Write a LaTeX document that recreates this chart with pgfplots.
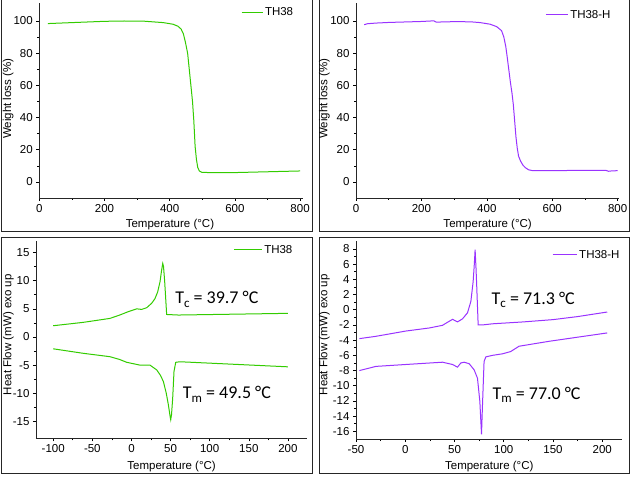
\documentclass[border=0pt]{standalone}
\usepackage{fontspec}
\setmainfont{Liberation Sans}
\newfontfamily\calib{Carlito}
\usepackage{pgfplots}
\pgfplotsset{compat=1.18}
\definecolor{tgreen}{RGB}{51,204,0}
\definecolor{tpurple}{RGB}{153,51,255}
\pgfplotsset{panel/.style={
  scale only axis, axis x line*=bottom, axis y line*=left,
  tick align=outside, major tick length=3pt, minor tick length=2pt, minor tick num=1,
  every tick/.style={black, line width=0.6pt},
  axis line style={black!85, line width=0.8pt},
  tick label style={font=\fontsize{11.5}{13}\selectfont},
  label style={font=\fontsize{11.5}{13}\selectfont},
  /pgf/number format/assume math mode=true,
  legend style={draw=none, fill=none, font=\fontsize{11.5}{13}\selectfont, anchor=west, inner sep=0pt},
  legend cell align=left,
  xlabel={Temperature (°C)},
}}
\newcommand{\anno}[2]{{\calib\fontsize{18}{20}\selectfont T\raisebox{-0.4ex}{\fontsize{13}{13}\selectfont #1} = #2 °C}}
\begin{document}
\begin{tikzpicture}
\useasboundingbox (0,0) rectangle (632pt,477pt);
\fill[white] (0,0) rectangle (632pt,477pt);
% panel frames
\draw[black!85, line width=0.8pt] (1pt,477pt) -- (1pt,246pt) -- (312pt,246pt) -- (312pt,477pt);
\draw[black!85, line width=0.8pt] (319pt,477pt) -- (319pt,246pt) -- (629pt,246pt) -- (629pt,477pt);
\draw[black!85, line width=0.8pt] (1pt,240pt) rectangle (312pt,4pt);
\draw[black!85, line width=0.8pt] (319pt,240pt) rectangle (629pt,4pt);

% Panel 1
\begin{axis}[panel, at={(39.3pt,279pt)}, anchor=south west, width=263.4pt, height=194.7pt,
  xmin=0, xmax=808, ymin=-10, ymax=111,
  xtick={0,200,...,800}, ytick={0,20,...,100},
  ylabel={Weight loss (\%)},
  ylabel style={at={(axis description cs:-0.118,0.51)}, anchor=center},
  xlabel style={at={(axis description cs:0.496,-0.134)}, anchor=center},
  legend style={at={(axis description cs:0.765,0.952)}},
  legend image code/.code={\draw[#1] (0pt,0pt) -- (21pt,0pt);}]
\addplot[tgreen, line width=1pt] coordinates {
(26,98.4) (100,99.0) (200,99.8) (260,100.0) (320,99.9) (380,99.0) (410,98.0) (425,96.8) (435,95) (442,92) (448,87) (455,80) (460,70) (465,60) (470,50) (474,38) (478,22) (482,14) (486,9) (491,6.8) (498,6.0) (520,5.8) (600,5.8) (700,6.3) (800,6.8)};
\addlegendentry{TH38}
\end{axis}

% Panel 2
\begin{axis}[panel, at={(356pt,279pt)}, anchor=south west, width=263.3pt, height=194.7pt,
  xmin=0, xmax=805, ymin=-10, ymax=111,
  xtick={0,200,...,800}, ytick={0,20,...,100},
  ylabel={Weight loss (\%)},
  ylabel style={at={(axis description cs:-0.12,0.51)}, anchor=center},
  xlabel style={at={(axis description cs:0.5,-0.134)}, anchor=center},
  legend style={at={(axis description cs:0.718,0.94)}},
  legend image code/.code={\draw[#1] (0pt,0pt) -- (22pt,0pt);}]
\addplot[tpurple, line width=1pt] coordinates {
(25,97.7) (35,98.3) (60,98.7) (100,99.1) (150,99.4) (200,99.7) (238,100.1) (245,99.3) (300,99.6) (350,99.5) (380,99.0) (410,98.0) (430,96.5) (445,94) (452,90) (458,84) (462,78) (467,70) (472,62) (477,55) (481,48) (485,38) (489,28) (493,21) (497,16) (503,13) (510,10.5) (518,8.8) (528,7.5) (540,7.0) (600,7.0) (700,7.2) (765,7.1) (772,6.6) (780,6.8) (800,7.0)};
\addlegendentry{TH38-H}
\end{axis}

% Panel 3
\begin{axis}[panel, at={(36pt,38.7pt)}, anchor=south west, width=270.7pt, height=197pt,
  xmin=-122, xmax=224, ymin=-18, ymax=17,
  xtick={-100,-50,...,200}, ytick={-15,-10,...,15},
  ylabel={Heat Flow (mW) exo up},
  ylabel style={at={(axis description cs:-0.102,0.526)}, anchor=center},
  xlabel style={at={(axis description cs:0.501,-0.142)}, anchor=center},
  legend style={at={(axis description cs:0.728,0.956)}},
  legend image code/.code={\draw[#1] (0pt,0pt) -- (28pt,0pt);}]
\addplot[tgreen, line width=1pt] coordinates {
(-100,2.0) (-61.6,2.6) (-27.5,3.3) (-15,3.9) (-4,4.5) (6.7,5.0) (13,4.9) (19.5,5.2) (25.9,6.0) (30,6.8) (33.5,8.0) (36.5,9.8) (38.5,11.8) (40,13.05) (41,12.5) (42.5,9.8) (45,4.0) (60,3.9) (200,4.2)};
\addlegendentry{TH38}
\addplot[tgreen, line width=1pt, forget plot] coordinates {
(-100,-2.1) (-61.6,-2.9) (-27.5,-3.5) (-15,-4.0) (-6,-4.5) (11,-5.0) (23.7,-5.0) (32.3,-5.85) (37,-6.8) (40.8,-7.9) (44.5,-10.0) (47.2,-12.05) (49.5,-14.2) (50.2,-14.7) (51.2,-13.8) (52.7,-10.9) (54.4,-6.1) (56.6,-4.5) (62,-4.4) (200,-5.3)};
\node[anchor=west, inner sep=0pt] at (axis cs:55.8,6.67) {\anno{c}{39.7}};
\node[anchor=west, inner sep=0pt] at (axis cs:65.6,-10.2) {\anno{m}{49.5}};
\end{axis}

% Panel 4
\begin{axis}[panel, at={(356pt,38pt)}, anchor=south west, width=266pt, height=197.7pt,
  xmin=-50, xmax=220, ymin=-17, ymax=9,
  xtick={-50,0,...,200}, ytick={-16,-14,...,8},
  ylabel={Heat Flow (mW) exo up},
  ylabel style={at={(axis description cs:-0.119,0.527)}, anchor=center},
  xlabel style={at={(axis description cs:0.501,-0.138)}, anchor=center},
  legend style={at={(axis description cs:0.737,0.932)}},
  legend image code/.code={\draw[#1] (0pt,0pt) -- (24pt,0pt);}]
\addplot[tpurple, line width=1pt] coordinates {
(-46.6,-3.8) (-30,-3.5) (0.7,-2.8) (24.3,-2.4) (37.8,-2.05) (42.9,-1.65) (48,-1.26) (53,-1.6) (58.1,-1.2) (63.2,-0.4) (66.6,1.1) (68.9,3.7) (70.1,6.0) (70.9,7.9) (71.8,5.5) (72.6,2.9) (74,-2.0) (78.4,-2.0) (88.5,-1.85) (120,-1.6) (150,-1.3) (175,-0.9) (205,-0.3)};
\addlegendentry{TH38-H}
\addplot[tpurple, line width=1pt, forget plot] coordinates {
(-46.6,-8.0) (-29.7,-7.45) (0.7,-7.2) (37.8,-6.9) (48,-7.2) (53,-7.55) (56.4,-7.0) (59.8,-6.9) (64.9,-7.1) (69.9,-7.9) (73.3,-9.0) (75.7,-12.05) (77.4,-16.4) (78.4,-12.5) (80,-6.8) (81.8,-6.2) (88.5,-6.0) (98.6,-5.8) (107,-5.5) (115.5,-4.8) (146,-4.15) (205,-3.05)};
\node[anchor=west, inner sep=0pt] at (axis cs:87.5,1.33) {\anno{c}{71.3}};
\node[anchor=west, inner sep=0pt] at (axis cs:88.5,-11.2) {\anno{m}{77.0}};
\end{axis}
\end{tikzpicture}
\end{document}
